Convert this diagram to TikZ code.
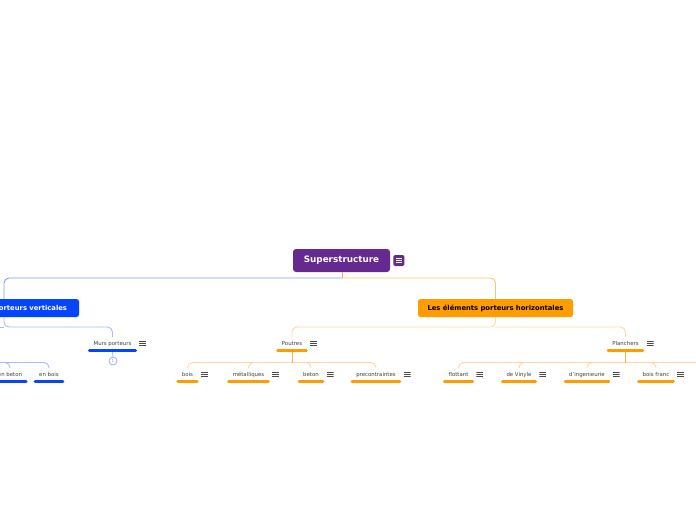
\documentclass[tikz,border=0pt]{standalone}
\usepackage{fontspec}
\setmainfont{DejaVu Sans}
\usetikzlibrary{positioning, calc}
\definecolor{mmPurple}{HTML}{66298F}
\definecolor{mmBlue}{HTML}{0645FF}
\definecolor{mmOrange}{HTML}{FF9C00}
\definecolor{mmText}{HTML}{404040}
\definecolor{mmMenu}{HTML}{4A4A4A}
\definecolor{lnBlueA}{HTML}{7E9EF5}
\definecolor{lnBlueB}{HTML}{A8BBF7}
\definecolor{lnOrangeA}{HTML}{FFC468}
\definecolor{lnOrangeB}{HTML}{FFD8A0}
\definecolor{lnOrangeC}{HTML}{FFAE3A}
\tikzset{
  rootbox/.style   = {fill=mmPurple, rounded corners=3pt, text=white,
                      font=\fontsize{8.8}{10}\selectfont\bfseries,
                      minimum width=97pt, minimum height=23pt, inner sep=0pt},
  mainbox/.style   = {fill=#1, rounded corners=2.5pt,
                      font=\fontsize{6.8}{8}\selectfont\bfseries,
                      minimum height=18pt, inner sep=0pt},
  subtopic/.style  = {font=\fontsize{5.4}{6}\selectfont, text=mmText,
                      text height=4pt, text depth=1pt, inner xsep=4pt, inner ysep=4pt},
  barblue/.style   = {mmBlue, line width=3pt, line cap=round},
  barorange/.style = {mmOrange, line width=3pt, line cap=round},
  lnk/.style       = {#1, line width=0.9pt, rounded corners=5pt},
  menuic/.style    = {inner sep=0pt, minimum width=7pt, minimum height=6pt,
                      path picture={\foreach \k in {-2.3,0,2.3}
                        \draw[mmMenu, line width=0.65pt] (-3.5pt,\k pt) -- (3.5pt,\k pt);}},
  rootmenu/.style  = {fill=mmPurple, rounded corners=1.5pt, inner sep=0pt, minimum size=11pt,
                      path picture={\foreach \k in {-2.3,0,2.3}
                        \draw[white, line width=0.7pt] (-3pt,\k pt) -- (3pt,\k pt);}},
  collapsed/.style = {circle, draw=lnBlueA, fill=white, line width=0.6pt, inner sep=0pt,
                      minimum size=8pt, text=lnBlueA, font=\fontsize{4}{4}\selectfont},
}

\begin{document}
\begin{tikzpicture}[x=1pt, y=-1pt]
  \useasboundingbox (0,0) rectangle (696,520);
  \clip (0,0) rectangle (696,520);

  % central topic and main branches
  \node[rootbox] (root) at (341.5,260.5) {Superstructure};
  \node[rootmenu, right=3pt of root] (rootm) {};
  \node[mainbox=mmBlue, text=white, minimum width=150pt] (vert) at (4,308)
       {Les éléments porteurs verticales};
  \node[mainbox=mmOrange, text=black, minimum width=155pt] (horiz) at (495.5,308)
       {Les éléments porteurs horizontales};

  \coordinate (rootj) at (342,278);
  \draw[lnk=lnBlueA]   (rootj) -| (vert.north);
  \draw[lnk=lnOrangeA] (rootj) -| (horiz.north);
  \draw[lnk=lnOrangeC] (root.south -| rootj) -- (rootj);

  % vertical side
  \node[subtopic] (murs)  at (112.5,343.5) {Murs porteurs};
  \node[subtopic] (beton) at (10,374.5)    {en beton};
  \node[subtopic] (bois)  at (49,374.5)    {en bois};
  \node[menuic, right=3.5pt of murs] (mursm) {};
  \node[collapsed] (mursc) at (113,361) {1};

  \coordinate (vertj)   at (4,327);
  \coordinate (vertoff) at (-20,327);
  \coordinate (potj)    at (-20,362.5);
  \draw[lnk=lnBlueB] (vert.south) -- (vertj) -| (murs.north);
  \draw[lnk=lnBlueB] (vertj) -- (vertoff);
  \draw[lnk=lnBlueB] (potj) -| (beton.north);
  \draw[lnk=lnBlueB] (potj) -| (bois.north);
  \draw[lnBlueA, line width=0.7pt] (murs.south) -- (mursc.north);

  % horizontal side
  \node[subtopic] (poutres)   at (292,343.5)   {Poutres};
  \node[subtopic] (planchers) at (625.5,343.5) {Planchers};
  \node[menuic, right=3.5pt of poutres]   (poutresm)   {};
  \node[menuic, right=3.5pt of planchers] (planchersm) {};

  \coordinate (horizj) at (495.5,327);
  \draw[lnk=lnOrangeB] (horiz.south) -- (horizj) -| (poutres.north);
  \draw[lnk=lnOrangeB] (horizj) -| (planchers.north);

  \node[subtopic] (boisp)  at (187.5,374.5) {bois};
  \node[subtopic] (metal)  at (248.5,374.5) {métalliques};
  \node[subtopic] (betonp) at (311,374.5)   {beton};
  \node[subtopic] (preco)  at (376,374.5)   {precontraintes};
  \node[subtopic] (flot)   at (458.5,374.5) {flottant};
  \node[subtopic] (vinyl)  at (519,374.5)   {de Vinyle};
  \node[subtopic] (ingen)  at (587,374.5)   {d'ingenieurie};
  \node[subtopic] (franc)  at (656,374.5)   {bois franc};
  \foreach \n in {boisp,metal,betonp,preco,flot,vinyl,ingen,franc}
    \node[menuic, right=3.5pt of \n] (\n m) {};

  \coordinate (poutj)    at (292,362.5);
  \coordinate (planj)    at (625.5,362.5);
  \coordinate (planoff)  at (720,362.5);
  \foreach \n in {boisp,metal,betonp,preco}
    \draw[lnk=lnOrangeB] (poutj) -| (\n.north);
  \foreach \n in {flot,vinyl,ingen,franc}
    \draw[lnk=lnOrangeB] (planj) -| (\n.north);
  \draw[lnk=lnOrangeB] (planj) -- (planoff);
  \draw[lnOrangeC, line width=0.9pt] (poutres.south) -- (poutj);
  \draw[lnOrangeC, line width=0.9pt] (planchers.south) -- (planj);

  % underline bars
  \foreach \n in {murs,beton,bois}
    \draw[barblue] (\n.south west) -- (\n.south east);
  \foreach \n in {poutres,planchers,boisp,metal,betonp,preco,flot,vinyl,ingen,franc}
    \draw[barorange] (\n.south west) -- (\n.south east);
\end{tikzpicture}
\end{document}
